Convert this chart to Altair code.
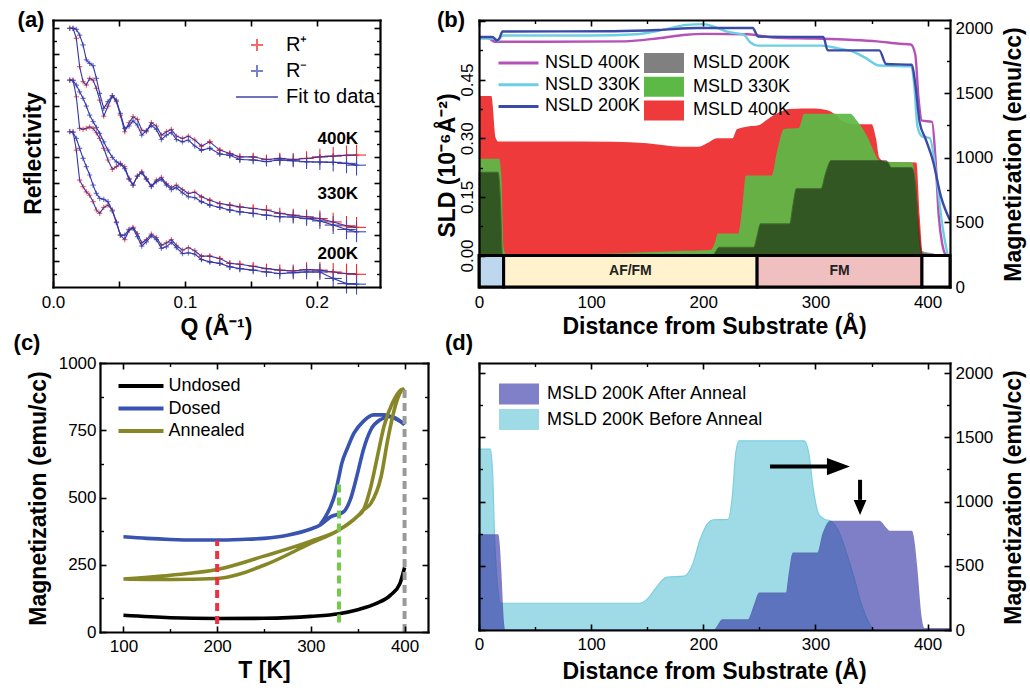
import altair as alt
import pandas as pd

W, H = 1030, 688
FONT = "Liberation Sans"

# ============================ (a) reflectivity =============================
q_grid = [0.0127, 0.0152, 0.0177, 0.0202, 0.0228, 0.0253, 0.0278, 0.0304, 0.0329, 0.0354,
          0.0385, 0.0417, 0.0450, 0.0481, 0.0511, 0.0544, 0.0577, 0.0607, 0.0640, 0.0673,
          0.0708, 0.0746, 0.0784, 0.0822, 0.0860, 0.0898, 0.0936, 0.0982, 0.1027, 0.1075,
          0.1126, 0.1189, 0.1265, 0.1341, 0.1417, 0.1518, 0.1619, 0.1720, 0.1822, 0.1923,
          0.2024, 0.2125, 0.2226, 0.2302]
logR_400_plus = [-0.02, -0.02, -0.41, -1.50, -2.08, -2.21, -1.95, -2.02, -2.34, -2.79,
                 -3.41, -3.02, -2.63, -2.85, -3.37, -4.01, -3.66, -3.43, -3.53, -3.95,
                 -4.01, -3.66, -3.79, -4.14, -4.01, -3.92, -4.18, -4.27, -4.18, -4.33,
                 -4.56, -4.40, -4.72, -4.85, -4.98, -4.98, -5.08, -5.04, -5.08, -5.04,
                 -4.98, -4.95, -4.92, -4.91]
logR_400_minus = [-0.02, -0.02, -0.06, -0.28, -0.66, -1.24, -1.37, -1.46, -1.95, -2.53,
                  -3.11, -2.85, -2.62, -2.79, -3.30, -3.88, -3.79, -3.59, -3.75, -4.14,
                  -3.97, -3.77, -3.92, -4.31, -4.14, -4.04, -4.31, -4.40, -4.33, -4.56,
                  -4.72, -4.65, -4.87, -4.92, -5.08, -5.10, -5.16, -5.10, -5.13, -5.17,
                  -5.18, -5.19, -5.23, -5.30]
logR_330_plus = [-2.02, -2.02, -2.66, -3.88, -3.92, -3.88, -3.82, -3.88, -4.05, -4.27,
                 -4.65, -5.10, -5.46, -5.36, -5.23, -5.36, -5.81, -6.07, -5.72, -5.55,
                 -5.81, -6.11, -5.88, -5.77, -6.01, -6.16, -6.07, -6.24, -6.39, -6.34,
                 -6.52, -6.65, -6.78, -6.84, -6.91, -6.97, -7.03, -7.16, -7.23, -7.29,
                 -7.36, -7.49, -7.64, -7.70]
logR_330_minus = [-2.02, -2.04, -2.21, -2.47, -2.72, -3.02, -3.37, -3.62, -3.84, -4.07,
                  -4.40, -4.72, -5.00, -5.17, -5.26, -5.43, -5.85, -6.07, -5.72, -5.59,
                  -5.85, -6.13, -5.94, -5.85, -6.07, -6.24, -6.17, -6.37, -6.52, -6.55,
                  -6.71, -6.84, -6.93, -7.03, -7.10, -7.16, -7.23, -7.29, -7.30, -7.36,
                  -7.45, -7.61, -7.78, -7.87]
logR_200_plus = [-4.01, -4.01, -4.72, -5.88, -6.13, -6.33, -6.46, -6.71, -7.03, -7.16,
                 -6.93, -6.84, -7.03, -7.49, -8.00, -8.17, -7.81, -7.70, -7.94, -8.30,
                 -8.17, -7.96, -8.09, -8.39, -8.30, -8.17, -8.39, -8.58, -8.48, -8.60,
                 -8.81, -8.81, -8.90, -9.09, -9.12, -9.20, -9.29, -9.35, -9.38, -9.33,
                 -9.35, -9.42, -9.48, -9.51]
logR_200_minus = [-4.01, -4.04, -4.27, -4.65, -5.04, -5.36, -5.68, -6.07, -6.39, -6.58,
                  -6.62, -6.71, -7.06, -7.52, -8.00, -8.00, -7.78, -7.74, -8.06, -8.42,
                  -8.26, -8.03, -8.17, -8.51, -8.45, -8.28, -8.48, -8.71, -8.68, -8.73,
                  -8.94, -9.03, -9.09, -9.22, -9.29, -9.35, -9.42, -9.48, -9.45, -9.42,
                  -9.42, -9.67, -9.87, -9.89]
err_first = 30
err_dlogR = [0.08, 0.09, 0.10, 0.12, 0.14, 0.16, 0.19, 0.22, 0.25, 0.28, 0.31, 0.35, 0.38, 0.40]
err_dq = [0.0020, 0.0022, 0.0025, 0.0028, 0.0031, 0.0035, 0.0040, 0.0045, 0.0050, 0.0055,
          0.0060, 0.0065, 0.0070, 0.0072]
temp_names = ["400K", "330K", "200K"]
temp_tag_q = [0.216, 0.216, 0.216]
temp_tag_logR = [-4.29, -6.42, -8.73]

# ============================ (b) depth profiles ===========================
m400_x = [0, 11, 15, 17, 60, 120, 150, 180, 195, 205, 212, 226, 230, 240, 249, 258, 268, 277,
          300, 310, 318, 325, 335, 350, 354, 357, 362, 390, 393, 396, 420]
m400_y = [0.408, 0.408, 0.30, 0.292, 0.292, 0.291, 0.287, 0.278, 0.278, 0.29, 0.30, 0.30, 0.323,
          0.33, 0.333, 0.35, 0.367, 0.375, 0.376, 0.372, 0.36, 0.342, 0.336, 0.336, 0.30, 0.25,
          0.24, 0.238, 0.10, 0.0, 0.0]
m330_x = [0, 18, 20, 22, 24, 100, 150, 185, 207, 210, 213, 231, 235, 238, 261, 266, 272, 285,
          290, 331, 337, 342, 347, 351, 357, 362, 386, 389, 392, 395, 420]
m330_y = [0.2475, 0.2475, 0.20, 0.02, 0.003, 0.004, 0.008, 0.012, 0.015, 0.03, 0.056, 0.056,
          0.13, 0.205, 0.205, 0.27, 0.324, 0.326, 0.363, 0.363, 0.345, 0.325, 0.30, 0.274,
          0.243, 0.24, 0.238, 0.20, 0.05, 0.0, 0.0]
m200_x = [0, 17, 19, 21, 208, 211, 214, 245, 248, 251, 277, 280, 283, 305, 309, 314, 363, 368,
          386, 389, 392, 395, 405, 410, 420]
m200_y = [0.213, 0.213, 0.15, 0.0, 0.0, 0.01, 0.021, 0.021, 0.05, 0.081, 0.081, 0.13, 0.171,
          0.171, 0.21, 0.243, 0.243, 0.225, 0.225, 0.19, 0.08, 0.01, 0.004, 0.0, 0.0]
n400_x = [0, 8, 14, 60, 130, 160, 185, 200, 240, 262, 300, 330, 355, 375, 385, 389, 392, 395,
          404, 407, 410, 413, 416]
n400_y = [0.557, 0.557, 0.547, 0.547, 0.548, 0.556, 0.565, 0.567, 0.566, 0.558, 0.555, 0.552,
          0.548, 0.542, 0.540, 0.515, 0.40, 0.345, 0.342, 0.25, 0.10, 0.03, 0.0]
n330_x = [0, 14, 17, 21, 100, 140, 165, 185, 200, 210, 222, 236, 242, 249, 305, 320, 335, 345,
          357, 385, 388, 391, 395, 402, 408, 413, 418]
n330_y = [0.555, 0.555, 0.550, 0.563, 0.563, 0.566, 0.578, 0.590, 0.592, 0.585, 0.572, 0.565,
          0.545, 0.537, 0.537, 0.530, 0.520, 0.505, 0.486, 0.484, 0.44, 0.33, 0.305, 0.30,
          0.20, 0.08, 0.0]
n200_x = [0, 12, 16, 18, 21, 120, 160, 195, 244, 249, 307, 311, 357, 363, 386, 389, 393, 398,
          405, 412, 420]
n200_y = [0.559, 0.559, 0.550, 0.555, 0.573, 0.574, 0.577, 0.582, 0.582, 0.560, 0.559, 0.525,
          0.525, 0.490, 0.488, 0.44, 0.34, 0.30, 0.24, 0.15, 0.09]
layer_start = [0, 22, 248, 395]
layer_end = [22, 248, 395, 420]
layer_fill = ["#bdd7ee", "#fff2cc", "#f0c0c0", "#ffffff"]
layer_name = ["", "AF/FM", "FM", ""]

# ============================ (c) M(T) ======================================
undosed_T = [100, 150, 200, 250, 300, 330, 350, 370, 385, 395, 400]
undosed_M = [62, 53, 50, 51, 58, 68, 83, 106, 137, 180, 240]
dosed_T = [100, 125, 150, 175, 200, 225, 250, 275, 300, 310,
           321, 335, 342, 349, 356, 364, 374, 385, 393, 400,
           389, 378, 367, 356, 346, 339, 333, 330, 326, 321, 315, 310]
dosed_M = [354, 348, 344, 342, 342, 344, 348, 360, 383, 398,
           428, 447, 491, 578, 677, 752, 789, 801, 790, 770,
           795, 807, 807, 783, 739, 683, 627, 578, 516, 466, 425, 400]
annealed_T = [100, 150, 200, 250, 300, 330, 349, 356,
              364, 375, 382, 389, 396, 400,
              396, 387, 378, 371, 364, 356,
              349, 330, 300, 250, 200, 150, 100]
annealed_M = [197, 195, 199, 248, 330, 379, 428, 453,
              478, 578, 714, 826, 894, 905,
              900, 851, 764, 652, 540, 453,
              428, 379, 338, 282, 232, 211, 197]
cut_T = [200, 330, 400]
cut_lo = [30, 35, 0]
cut_hi = [340, 560, 912]
cut_color = ["#ee3040", "#72c94a", "#9a9a9a"]

# ============================ (d) anneal comparison ========================
before_x = [0, 10, 12, 14, 17, 19, 143, 150, 158, 167, 183, 190, 197, 204, 209, 222, 226, 229,
            232, 290, 294, 298, 303, 308, 313, 320, 327, 334, 341, 348, 353, 420]
before_M = [1408, 1408, 1250, 700, 300, 208, 208, 240, 330, 410, 420, 500, 700, 830, 858, 860,
            1050, 1380, 1472, 1472, 1380, 1100, 900, 862, 850, 780, 620, 420, 200, 50, 0, 0]
after_x = [0, 17, 19, 21.7, 23, 210, 213, 217, 240, 246, 250, 274, 277, 280, 302, 307, 313, 357,
           362, 366, 386, 390, 394, 397, 420]
after_M = [740, 740, 500, 50, 0, 0, 30, 78, 78, 200, 286, 286, 450, 597, 597, 750, 844, 844,
           800, 766, 766, 500, 100, 10, 10]
arrow_x0 = [259.5, 339.8]
arrow_x1 = [312.0, 339.8]
arrow_y0 = [1272, 1169]
arrow_y1 = [1272, 1013]
head_x = [320.5, 339.8]
head_y = [1272, 954]

panel_tags = ["(a)", "(b)", "(c)", "(d)"]
tag_px = [31, 451, 27, 459]
tag_py = [20, 20, 343, 343]

# ============================ helpers ======================================
def sc(d, r):
    return alt.Scale(domain=d, range=r, zero=False, nice=False)

def off(orient, pos):
    return {"bottom": pos - H, "top": -pos, "left": -pos, "right": pos - W}[orient]

HIDDEN = dict(labels=True, labelOpacity=0, labelFontSize=1, title=None)

def tick_axis(orient, pos, values, size=6):
    kw = dict(orient=orient, offset=off(orient, pos), grid=False,
              domain=True, domainWidth=2.2, domainColor="black", domainCap="square",
              domainOpacity=1, zindex=3, **HIDDEN)
    if values:
        kw.update(values=values, ticks=True, tickSize=size, tickWidth=1.6, tickColor="black",
                  tickOpacity=1)
    else:
        kw.update(ticks=False, values=[-1e9])
    return alt.Axis(**kw)

def minor_axis(orient, pos, values, size=3.5):
    return alt.Axis(orient=orient, offset=off(orient, pos), grid=False,
                    domain=False, values=values, ticks=True, tickSize=size, tickWidth=1.4,
                    tickColor="black", tickOpacity=1, zindex=3, **HIDDEN)

def label_axis(orient, pos, values=None, fmt=None, title=None, tx=0, ty=0, pad=5, rotate=False):
    kw = dict(orient=orient, offset=off(orient, pos), grid=False, domain=False, ticks=False,
              tickSize=0, zindex=3)
    if values:
        kw.update(values=values, format=fmt, labels=True, labelPadding=pad, labelFont=FONT,
                  labelFontSize=17, labelColor="black", labelFlush=False, labelOverlap=False)
        if rotate:
            kw.update(labelAngle=270, labelAlign="center", labelBaseline="bottom")
    else:
        kw.update(labels=False)
    if title:
        if orient in ("bottom", "top"):
            rx, ry, ang = tx, ty - pos, 0
        else:
            rx, ry, ang = tx - pos, ty, 270
        kw.update(title=title, titleX=rx, titleY=ry, titleAngle=ang, titleAlign="center",
                  titleBaseline="middle", titleFont=FONT, titleFontSize=23,
                  titleFontWeight="bold", titleColor="black")
    else:
        kw.update(title=None)
    return alt.Axis(**kw)

def frame(xd, xr, yd, yr, xaxis=None, yaxis=None):
    df = pd.DataFrame({"x": [xd[0]], "y": [yd[0]]})
    return alt.Chart(df).mark_point(opacity=0).encode(
        x=alt.X("x:Q", scale=sc(xd, xr), axis=xaxis),
        y=alt.Y("y:Q", scale=sc(yd, yr), axis=yaxis))

def legend(x, y, fs, offset, rowpad, stype=None, ssize=100, swidth=2):
    kw = dict(orient="none", legendX=x, legendY=y, title=None, labelFont=FONT,
              labelFontSize=fs, labelColor="black", labelOffset=offset, rowPadding=rowpad,
              padding=0, symbolSize=ssize, symbolStrokeWidth=swidth, labelLimit=0)
    if stype:
        kw.update(symbolType=stype)
    return alt.Legend(**kw)

layers = []

# ============================ (a) layers ===================================
AX, AXR = [0.0, 0.248], [53, 380]
AY, AYR = [-10.0, 0.30], [287, 20]
a_xt = [0.0, 0.05, 0.1, 0.15, 0.2]
a_yt = list(range(-9, 1))
a_ym = [v + 0.5 for v in range(-10, 0)]
layers += [
    frame(AX, AXR, AY, AYR, tick_axis("top", 287, a_xt), tick_axis("right", 53, a_yt)),
    frame(AX, AXR, AY, AYR, tick_axis("bottom", 20, a_xt), tick_axis("left", 380, a_yt)),
    frame(AX, AXR, AY, AYR, None, minor_axis("right", 53, a_ym)),
    frame(AX, AXR, AY, AYR, None, minor_axis("left", 380, a_ym)),
    frame(AX, AXR, AY, AYR,
          label_axis("bottom", 287, [0.0, 0.1, 0.2], ".1f", "Q (Å⁻¹)", 216, 327, 7),
          label_axis("left", 53, None, None, "Reflectivity", 33, 153)),
]

RED_A, BLUE_A, NAVY_A = "#f02a2a", "#3b4cb2", "#3535a5"
A_SERIES = ["R⁺", "R⁻", "Fit to data"]
PLUS = "M-1,0L1,0M0,-1L0,1"
rows, erows = [], []
for temp, plus, minus in (("400K", logR_400_plus, logR_400_minus),
                          ("330K", logR_330_plus, logR_330_minus),
                          ("200K", logR_200_plus, logR_200_minus)):
    for pol, vals in (("R⁺", plus), ("R⁻", minus)):
        for i, (q, v) in enumerate(zip(q_grid, vals)):
            rows.append(dict(curve=temp + pol, pol=pol, i=i, q=q, v=v))
            if i >= err_first:
                k = i - err_first
                erows.append(dict(pol=pol, q=q, v=v, q0=q - err_dq[k], q1=q + err_dq[k],
                                  v0=v - err_dlogR[k], v1=v + err_dlogR[k]))
dfa = pd.DataFrame(rows)
dfe = pd.DataFrame(erows)
leg_a = legend(247, 35, 20, 19, 6, None, 144, 2)
ax_a = lambda f: alt.X(f, scale=sc(AX, AXR), axis=None)
ay_a = lambda f: alt.Y(f, scale=sc(AY, AYR), axis=None)
pol_col = alt.Color("pol:N", scale=alt.Scale(domain=["R⁺", "R⁻"], range=[RED_A, BLUE_A]), legend=None)
layers += [
    alt.Chart(dfe).mark_rule(strokeWidth=1.1).encode(x=ax_a("q:Q"), y=ay_a("v0:Q"), y2="v1:Q", color=pol_col),
    alt.Chart(dfe).mark_rule(strokeWidth=1.1).encode(x=ax_a("q0:Q"), x2="q1:Q", y=ay_a("v:Q"), color=pol_col),
    alt.Chart(dfa).mark_point(filled=False, size=28, strokeWidth=1.2).encode(
        x=ax_a("q:Q"), y=ay_a("v:Q"),
        color=alt.Color("pol:N", scale=alt.Scale(domain=A_SERIES, range=[RED_A, BLUE_A, NAVY_A]), legend=leg_a),
        shape=alt.Shape("pol:N", scale=alt.Scale(domain=A_SERIES, range=[PLUS, PLUS, "M-3.5,0L3.5,0"]), legend=leg_a)),
    alt.Chart(dfa).mark_line(strokeWidth=1.1, color=NAVY_A).encode(
        x=ax_a("q:Q"), y=ay_a("v:Q"), detail="curve:N", order="i:Q"),
    alt.Chart(pd.DataFrame({"t": temp_names, "q": temp_tag_q, "v": temp_tag_logR})).mark_text(
        font=FONT, fontWeight="bold", fontSize=17, color="black").encode(
        x=ax_a("q:Q"), y=ay_a("v:Q"), text="t:N"),
]

# ============================ (b) layers ===================================
BX, BXR = [0, 420], [479, 950]
BYL = [-0.0806, 0.6026]
BYR = [0, 2065]
BR = [287, 20]
layers += [
    frame(BX, BXR, BYL, BR, tick_axis("top", 287, []), tick_axis("right", 479, [0, 0.15, 0.3, 0.45, 0.6])),
    frame(BX, BXR, BYR, BR, tick_axis("bottom", 20, [0, 100, 200, 300, 400]),
          tick_axis("left", 950, [0, 500, 1000, 1500, 2000])),
    frame(BX, BXR, BYL, BR, minor_axis("bottom", 20, [50, 150, 250, 350]),
          minor_axis("right", 479, [0.075, 0.225, 0.375, 0.525])),
    frame(BX, BXR, BYR, BR, None, minor_axis("left", 950, [250, 750, 1250, 1750])),
    frame(BX, BXR, BYL, BR,
          label_axis("bottom", 287, [0, 100, 200, 300, 400], "d", "Distance from Substrate (Å)", 714, 326, 7),
          label_axis("left", 479, [0, 0.15, 0.3, 0.45], ".2f", "SLD (10⁻⁶Å⁻²)", 447, 165, 3, rotate=True)),
    frame(BX, BXR, BYR, BR, None,
          label_axis("right", 950, [0, 500, 1000, 1500, 2000], "d", "Magnetization (emu/cc)", 1013, 154, 5)),
]
bx = lambda f: alt.X(f, scale=sc(BX, BXR), axis=None)
by = lambda f: alt.Y(f, scale=sc(BYL, BR), axis=None, stack=None)
M_SERIES = ["MSLD 200K", "MSLD 330K", "MSLD 400K"]
N_SERIES = ["NSLD 400K", "NSLD 330K", "NSLD 200K"]
df_m400 = pd.DataFrame({"x": m400_x, "y": m400_y, "s": "MSLD 400K"})
df_m330 = pd.DataFrame({"x": m330_x, "y": m330_y})
df_m200 = pd.DataFrame({"x": m200_x, "y": m200_y})
df_n = pd.concat([pd.DataFrame({"x": n400_x, "y": n400_y, "s": "NSLD 400K"}),
                  pd.DataFrame({"x": n330_x, "y": n330_y, "s": "NSLD 330K"}),
                  pd.DataFrame({"x": n200_x, "y": n200_y, "s": "NSLD 200K"})])
df_layers = pd.DataFrame({"x0": layer_start, "x1": layer_end, "fill": layer_fill, "name": layer_name,
                          "y0": [BYL[0]] * 4, "y1": [0.0] * 4,
                          "xm": [(a + b) / 2 for a, b in zip(layer_start, layer_end)],
                          "ym": [BYL[0] / 2] * 4})
leg_m = legend(655, 54, 18, 20, 3.7, "M-4,-2L4,-2L4,2L-4,2Z", 100, 0)
leg_n = legend(509.5, 54, 18, 17.5, 3.7, "M-4,0L4,0", 100, 3)
layers += [
    alt.Chart(df_m400).mark_area(interpolate="monotone").encode(
        x=bx("x:Q"), y=by("y:Q"),
        color=alt.Color("s:N", scale=alt.Scale(domain=M_SERIES, range=["#808080", "#5cb946", "#ee3a3a"]),
                        legend=leg_m)),
    alt.Chart(df_m330).mark_area(interpolate="monotone", color="#5cb946", opacity=0.93).encode(
        x=bx("x:Q"), y=by("y:Q")),
    alt.Chart(df_m200).mark_area(interpolate="monotone", color="black", opacity=0.5,
                                 stroke="#1a2a1a", strokeWidth=1).encode(x=bx("x:Q"), y=by("y:Q")),
    alt.Chart(df_n).mark_line(interpolate="monotone", strokeWidth=2.4).encode(
        x=bx("x:Q"), y=by("y:Q"),
        color=alt.Color("s:N", scale=alt.Scale(domain=N_SERIES, range=["#b552b8", "#6dcfe2", "#3b4aa6"]),
                        legend=leg_n)),
    alt.Chart(df_layers).mark_rect(stroke="black", strokeWidth=3).encode(
        x=bx("x0:Q"), x2="x1:Q", y=by("y0:Q"), y2="y1:Q", fill=alt.Fill("fill:N", scale=None)),
    alt.Chart(df_layers).mark_text(font=FONT, fontWeight="bold", fontSize=14, color="#222222").encode(
        x=bx("xm:Q"), y=by("ym:Q"), text="name:N"),
]

# ============================ (c) layers ===================================
CX, CXR = [75, 425], [100, 428]
CY, CYR = [0, 1000], [632, 363]
c_xt = [100, 200, 300, 400]
c_yt = [0, 250, 500, 750, 1000]
layers += [
    frame(CX, CXR, CY, CYR, tick_axis("top", 632, c_xt), tick_axis("right", 100, c_yt)),
    frame(CX, CXR, CY, CYR, tick_axis("bottom", 363, c_xt), tick_axis("left", 428, c_yt)),
    frame(CX, CXR, CY, CYR, minor_axis("top", 632, [150, 250, 350]),
          minor_axis("right", 100, [125, 375, 625, 875])),
    frame(CX, CXR, CY, CYR, minor_axis("bottom", 363, [150, 250, 350]),
          minor_axis("left", 428, [125, 375, 625, 875])),
    frame(CX, CXR, CY, CYR,
          label_axis("bottom", 632, c_xt, "d", "T [K]", 264, 670, 6),
          label_axis("left", 100, c_yt, "d", "Magnetization (emu/cc)", 38, 498, 4)),
]
cx = lambda f: alt.X(f, scale=sc(CX, CXR), axis=None)
cy = lambda f: alt.Y(f, scale=sc(CY, CYR), axis=None)
C_SERIES = ["Undosed", "Dosed", "Annealed"]
df_c = pd.concat([
    pd.DataFrame({"T": undosed_T, "M": undosed_M, "s": "Undosed", "i": range(len(undosed_T))}),
    pd.DataFrame({"T": dosed_T, "M": dosed_M, "s": "Dosed", "i": range(len(dosed_T))}),
    pd.DataFrame({"T": annealed_T, "M": annealed_M, "s": "Annealed", "i": range(len(annealed_T))})])
df_cut = pd.DataFrame({"T": cut_T, "lo": cut_lo, "hi": cut_hi, "c": cut_color})
leg_c = legend(132, 377, 18, 18.5, 4.5, "M-4.5,0L4.5,0", 100, 4)
layers += [
    alt.Chart(df_c).mark_line(strokeWidth=3.6, interpolate="monotone").encode(
        x=cx("T:Q"), y=cy("M:Q"), order="i:Q",
        color=alt.Color("s:N", scale=alt.Scale(domain=C_SERIES, range=["#000000", "#3853b0", "#878727"]),
                        legend=leg_c)),
    alt.Chart(df_cut).mark_rule(strokeWidth=4, strokeDash=[8, 5]).encode(
        x=cx("T:Q"), y=cy("lo:Q"), y2="hi:Q", color=alt.Color("c:N", scale=None)),
]

# ============================ (d) layers ===================================
DX, DXR = [0, 420], [479, 950]
DY, DYR = [0, 2078], [630, 363]
d_xt = [0, 100, 200, 300, 400]
d_yt = [0, 500, 1000, 1500, 2000]
layers += [
    frame(DX, DXR, DY, DYR, tick_axis("top", 630, d_xt), tick_axis("right", 479, d_yt)),
    frame(DX, DXR, DY, DYR, tick_axis("bottom", 363, d_xt), tick_axis("left", 950, d_yt)),
    frame(DX, DXR, DY, DYR, minor_axis("top", 630, [50, 150, 250, 350]),
          minor_axis("right", 479, [250, 750, 1250, 1750])),
    frame(DX, DXR, DY, DYR, minor_axis("bottom", 363, [50, 150, 250, 350]),
          minor_axis("left", 950, [250, 750, 1250, 1750])),
    frame(DX, DXR, DY, DYR,
          label_axis("bottom", 630, d_xt, "d", "Distance from Substrate (Å)", 714, 671, 6), None),
    frame(DX, DXR, DY, DYR, None,
          label_axis("right", 950, d_yt, "d", "Magnetization (emu/cc)", 1013, 497, 5)),
]
dx = lambda f: alt.X(f, scale=sc(DX, DXR), axis=None)
dy = lambda f: alt.Y(f, scale=sc(DY, DYR), axis=None, stack=None)
D_SERIES = ["MSLD 200K After Anneal", "MSLD 200K Before Anneal"]
df_before = pd.DataFrame({"x": before_x, "M": before_M})
df_after = pd.DataFrame({"x": after_x, "M": after_M, "s": "MSLD 200K After Anneal"})
df_shaft = pd.DataFrame({"x0": arrow_x0, "x1": arrow_x1, "y0": arrow_y0, "y1": arrow_y1})
df_head = pd.DataFrame({"x": head_x, "y": head_y,
                        "shp": ["M-1,-0.75L1,0L-1,0.75Z", "M-0.85,-1L0.85,-1L0,1Z"],
                        "sz": [529, 225]})
leg_d = legend(510, 385, 18, 19, 3.5, "M-4,-2.1L4,-2.1L4,2.1L-4,2.1Z", 100, 0)
layers += [
    alt.Chart(df_before).mark_area(interpolate="monotone", color="#9edbe6", stroke="#7ccfe0",
                                   strokeWidth=1.2).encode(x=dx("x:Q"), y=dy("M:Q")),
    alt.Chart(df_after).mark_area(interpolate="monotone", stroke="#3a3aa0", strokeWidth=1.5).encode(
        x=dx("x:Q"), y=dy("M:Q"),
        color=alt.Color("s:N", scale=alt.Scale(domain=D_SERIES, range=["#3c3caa", "#9edbe6"]), legend=leg_d),
        opacity=alt.Opacity("s:N", scale=alt.Scale(domain=D_SERIES, range=[0.65, 1.0]), legend=leg_d)),
    alt.Chart(df_shaft).mark_rule(strokeWidth=4, color="black").encode(
        x=dx("x0:Q"), x2="x1:Q", y=dy("y0:Q"), y2="y1:Q"),
    alt.Chart(df_head).mark_point(filled=True, color="black", opacity=1).encode(
        x=dx("x:Q"), y=dy("y:Q"), shape=alt.Shape("shp:N", scale=None), size=alt.Size("sz:Q", scale=None)),
]

# ============================ panel tags ===================================
df_tags = pd.DataFrame({"t": panel_tags, "px": tag_px, "py": tag_py})
layers.append(
    alt.Chart(df_tags).mark_text(font=FONT, fontWeight="bold", fontSize=22, color="black").encode(
        x=alt.X("px:Q", scale=sc([0, W], [0, W]), axis=None),
        y=alt.Y("py:Q", scale=sc([0, H], [0, H]), axis=None),
        text="t:N"))

chart = alt.layer(*layers).resolve_scale(
    x="independent", y="independent", color="independent", shape="independent",
    opacity="independent", size="independent", fill="independent"
).properties(
    width=W, height=H, autosize=alt.AutoSizeParams(type="none"), padding=0
).configure_view(stroke=None).configure_axis(grid=False)

chart.save("out.html", embed_options={"renderer": "svg", "actions": False})
